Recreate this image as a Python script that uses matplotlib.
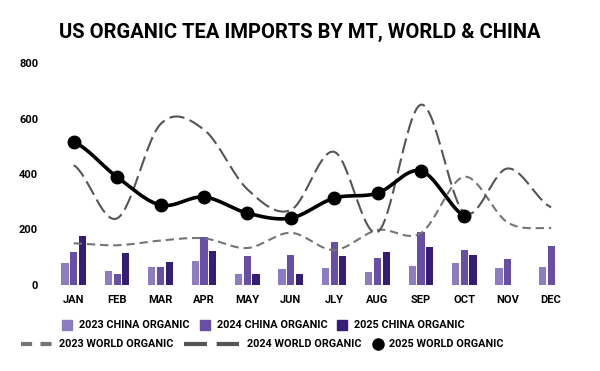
import numpy as np
from matplotlib import pyplot as plt
from matplotlib.lines import Line2D
from matplotlib.patches import Rectangle

plt.rcParams["font.family"] = ["Roboto", "DejaVu Sans"]
plt.rcParams["font.weight"] = "bold"
plt.rcParams["lines.scale_dashes"] = False

months = ["JAN", "FEB", "MAR", "APR", "MAY", "JUN", "JLY", "AUG", "SEP", "OCT", "NOV", "DEC"]

china_2023 = [80, 52, 66, 88, 40, 58, 61, 47, 68, 79, 61, 65]
china_2024 = [120, 40, 66, 173, 104, 108, 155, 97, 191, 126, 94, 140]
china_2025 = [178, 116, 84, 124, 40, 40, 104, 119, 137, 108, np.nan, np.nan]

world_2023 = [150, 143, 160, 168, 133, 188, 126, 198, 187, 390, 225, 205]
world_2024 = [432, 240, 580, 560, 345, 270, 480, 190, 650, 260, 420, 280]
world_2025 = [515, 389, 288, 317, 259, 241, 313, 331, 411, 249]

BAR_COLORS = ["#8e7cc3", "#674ea7", "#351c75"]
GRAY_23 = "#757575"
GRAY_24 = "#555555"
DASH_23 = (6, 3.5)
DASH_24 = (11, 4)

W, H = 600, 371


def smooth(y, steps=30):
    # catmull-rom curve through the points, only for drawing
    y = np.asarray(y, dtype=float)
    x = np.arange(len(y), dtype=float)
    xs, ys = [], []
    for i in range(len(y) - 1):
        p0 = y[i - 1] if i > 0 else y[i]
        p3 = y[i + 2] if i + 2 < len(y) else y[i + 1]
        p1, p2 = y[i], y[i + 1]
        t = np.linspace(0, 1, steps, endpoint=False)
        m1 = (p2 - p0) / 2
        m2 = (p3 - p1) / 2
        h00 = 2 * t**3 - 3 * t**2 + 1
        h10 = t**3 - 2 * t**2 + t
        h01 = -2 * t**3 + 3 * t**2
        h11 = t**3 - t**2
        xs.append(x[i] + t)
        ys.append(h00 * p1 + h10 * m1 + h01 * p2 + h11 * m2)
    xs.append([x[-1]])
    ys.append([y[-1]])
    return np.concatenate(xs), np.concatenate(ys)


def fx(px):
    return px / W


def fy(py):
    return (H - py) / H


fig = plt.figure(figsize=(6, 3.71), dpi=100)
ax = fig.add_axes([0.0867, 0.232, 0.868, 0.598])

x = np.arange(len(months))
w = 0.165
step = 0.2
for k, vals in enumerate([china_2023, china_2024, china_2025]):
    ax.bar(x + (k - 1) * step, vals, width=w, color=BAR_COLORS[k], zorder=2)

sx, sy = smooth(world_2023)
ax.plot(sx, sy, color=GRAY_23, lw=1.5, dashes=DASH_23, zorder=3)
sx, sy = smooth(world_2024)
ax.plot(sx, sy, color=GRAY_24, lw=1.5, dashes=DASH_24, zorder=3)
sx, sy = smooth(world_2025)
ax.plot(sx, sy, color="black", lw=2.6, zorder=4)
ax.plot(np.arange(len(world_2025)), world_2025, "o", color="black", ms=9, zorder=5)

ax.set_xlim(-0.5, 11.5)
ax.set_ylim(0, 800)
ax.set_yticks([0, 200, 400, 600, 800])
ax.set_xticks(x)
ax.set_xticklabels(months)
ax.tick_params(axis="both", length=0, labelsize=8)
ax.tick_params(axis="y", pad=10)
ax.tick_params(axis="x", pad=7)
for s in ax.spines.values():
    s.set_visible(False)

fig.text(0.5, fy(32), "US ORGANIC TEA IMPORTS BY MT, WORLD & CHINA",
         ha="center", va="center", fontsize=14.5, fontweight="bold")

# legend, drawn by hand (two rows, like the original)
LEG_FS = 7.8
labels1 = ["2023 CHINA ORGANIC", "2024 CHINA ORGANIC", "2025 CHINA ORGANIC"]
for px, c, lab in zip([62, 200, 337], BAR_COLORS, labels1):
    fig.add_artist(Rectangle((fx(px), fy(330)), fx(10), 10 / H, color=c,
                             transform=fig.transFigure))
    fig.text(fx(px + 17), fy(325), lab, ha="left", va="center", fontsize=LEG_FS)

ry = fy(344)
fig.add_artist(Line2D([fx(21), fx(52)], [ry, ry], color=GRAY_23, lw=3,
                      dashes=(8, 6), transform=fig.transFigure))
fig.text(fx(59), ry, "2023 WORLD ORGANIC", ha="left", va="center", fontsize=LEG_FS)
fig.add_artist(Line2D([fx(184), fx(239)], [ry, ry], color=GRAY_24, lw=3,
                      dashes=(16.5, 7), transform=fig.transFigure))
fig.text(fx(247), ry, "2024 WORLD ORGANIC", ha="left", va="center", fontsize=LEG_FS)
fig.add_artist(Line2D([fx(378)], [ry], color="black", marker="o", ms=8,
                      ls="none", transform=fig.transFigure))
fig.text(fx(389), ry, "2025 WORLD ORGANIC", ha="left", va="center", fontsize=LEG_FS)

fig.savefig("out.png", dpi=100)
